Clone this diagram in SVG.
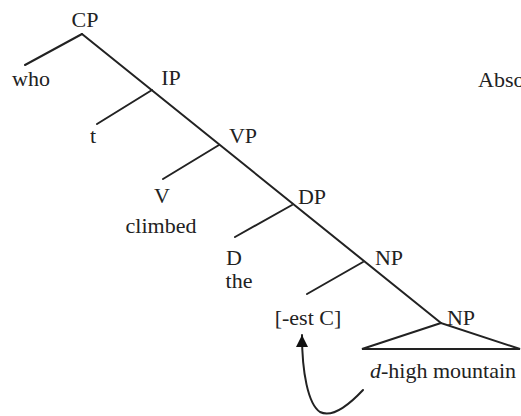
<svg xmlns="http://www.w3.org/2000/svg" width="521" height="416" viewBox="0 0 521 416">
<defs>
<style>
.l{stroke:#222;stroke-width:2;fill:none;stroke-linecap:round}
</style>
<marker id="ah" markerWidth="12" markerHeight="12" refX="10" refY="5" orient="auto" markerUnits="userSpaceOnUse" viewBox="0 0 10 10"><path d="M0,0 L10,5 L0,10 z" fill="#111"/></marker>
</defs>
<rect width="521" height="416" fill="#fff"/>
<g id="connectors">
<line class="l" x1="82" y1="34" x2="441" y2="323"/>
<line class="l" x1="82" y1="34" x2="25" y2="65"/>
<line class="l" x1="152" y1="90" x2="97" y2="124"/>
<line class="l" x1="219" y1="145" x2="163" y2="179"/>
<line class="l" x1="292" y1="205" x2="235" y2="237"/>
<line class="l" x1="363" y1="262" x2="307" y2="294"/>
<path class="l" d="M441,323 L362,349 L520,349 Z" stroke-linejoin="miter"/>
<path class="l" d="M363,390 C348,406 332,418 320,412 C308,404 302,372 302,335" marker-end="url(#ah)"/>
</g>
<g font-family="Liberation Serif" font-size="22" fill="#222">
<g id="CP"><text x="85" y="27" text-anchor="middle">CP</text></g>
<g id="who"><text x="31" y="86" text-anchor="middle">who</text></g>
<g id="IP"><text x="171" y="85" text-anchor="middle">IP</text></g>
<g id="Abso"><text x="478" y="87">Abso</text></g>
<g id="t"><text x="93" y="143" text-anchor="middle">t</text></g>
<g id="VP"><text x="243" y="143" text-anchor="middle">VP</text></g>
<g id="V"><text x="162" y="203" text-anchor="middle">V</text></g>
<g id="climbed"><text x="161" y="233" text-anchor="middle">climbed</text></g>
<g id="DP"><text x="312" y="204" text-anchor="middle">DP</text></g>
<g id="D"><text x="234" y="265" text-anchor="middle">D</text></g>
<g id="the"><text x="239" y="288" text-anchor="middle">the</text></g>
<g id="NP1"><text x="389" y="265" text-anchor="middle">NP</text></g>
<g id="estC"><text x="308" y="325" text-anchor="middle">[-est C]</text></g>
<g id="NP2"><text x="461" y="325" text-anchor="middle">NP</text></g>
<g id="mountain"><text x="443" y="378" text-anchor="middle"><tspan font-style="italic">d</tspan>-high mountain</text></g>
</g>
</svg>
